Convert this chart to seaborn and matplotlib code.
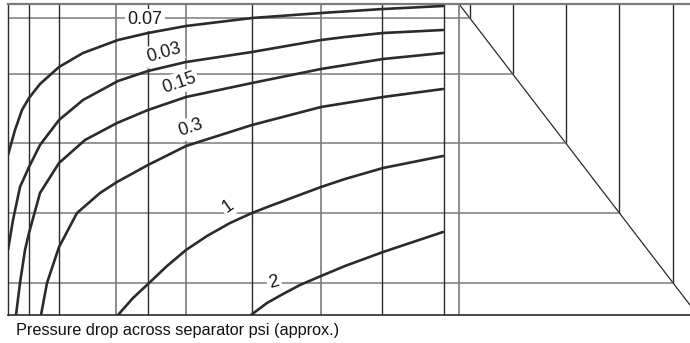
import numpy as np
import pandas as pd
import matplotlib
matplotlib.use("Agg")
import matplotlib.pyplot as plt
import seaborn as sns

# ---- data (chart units: x from left edge, y from bottom edge) ----
curve_names = ["0.07", "0.03", "0.15", "0.3", "1", "2"]
x_007 = [0, 7, 14, 21, 32, 51, 75, 110, 140, 178, 244, 313, 375, 435]
y_007 = [160, 185, 205, 217, 231, 248, 262, 275, 282, 289, 297, 302, 306, 309]
x_003 = [0, 5, 12, 21, 32, 51, 75, 110, 140, 178, 244, 313, 337, 375, 435]
y_003 = [65, 95, 128, 148, 170, 195, 215, 234, 244, 253, 263, 275, 278, 282, 285]
x_015 = [8, 12, 17, 21, 32, 51, 77, 109, 140, 178, 244, 313, 375, 435]
y_015 = [0, 32, 65, 82, 122, 152, 175, 192, 205, 218, 232, 246, 256, 262]
x_03 = [33, 39, 51, 69, 92, 109, 140, 178, 244, 313, 375, 435]
y_03 = [0, 32, 68, 102, 122, 133, 150, 169, 190, 208, 218, 226]
x_1 = [110, 125, 140, 159, 178, 199, 222, 244, 262, 313, 337, 375, 435]
y_1 = [0, 17, 31, 49, 65, 79, 92, 102, 109, 128, 136, 147, 159]
x_2 = [243, 259, 275, 292, 313, 337, 375, 435]
y_2 = [0, 12, 21, 30, 39, 49, 63, 83]

# grid of the nomogram
grid_x_full = [21, 51, 108, 140, 178, 244, 313, 374, 436, 451]
grid_x_dark = [True, True, False, True, False, True, False, True, True, False]
grid_y = [297, 241, 172, 102, 32]
diag_x = [451, 682]
diag_y = [311, 10]
x_max, y_max = 682, 311

caption = "Pressure drop across separator psi (approx.)"

# ---- build table ----
xs = [x_007, x_003, x_015, x_03, x_1, x_2]
ys = [y_007, y_003, y_015, y_03, y_1, y_2]
df = pd.concat(
    [pd.DataFrame({"x": a, "y": b, "curve": n, "order": range(len(a))})
     for a, b, n in zip(xs, ys, curve_names)],
    ignore_index=True)

sns.set_theme(style="white")
plt.rcParams["font.family"] = ["Liberation Sans", "DejaVu Sans"]

fig = plt.figure(figsize=(6.9, 3.43), dpi=100)
ax = fig.add_axes([8 / 690, 28 / 343, 682 / 690, 311 / 343])
ax.set_xlim(0, x_max)
ax.set_ylim(0, y_max)

dark = "#2b2b2b"
grey = "#7a7a7a"

def diag_x_at(y):
    return np.interp(y, diag_y[::-1], diag_x[::-1])

ax.plot(diag_x, diag_y, color=dark, lw=0.9, zorder=1)
for gy in grid_y:
    cx = diag_x_at(gy)
    ax.hlines(gy, 0, cx, color=grey, lw=1.1, zorder=1)
    ax.vlines(cx, gy, y_max, color=dark, lw=1.0, zorder=1)
for gx, d in zip(grid_x_full, grid_x_dark):
    ax.vlines(gx, 0, y_max, color=dark if d else grey, lw=1.0 if d else 1.2, zorder=1)

sns.lineplot(data=df, x="x", y="y", hue="curve", units="curve", estimator=None,
             sort=False, palette=[dark] * len(curve_names), linewidth=1.9,
             legend=False, ax=ax, zorder=3)

labels_pos = {"0.07": (137, 295, 0), "0.03": (156, 262, 16), "0.15": (171, 232, 19),
              "0.3": (183, 187, 19), "1": (220, 109, 35), "2": (266, 33, 15)}
for n in curve_names:
    lx, ly, rot = labels_pos[n]
    ax.text(lx, ly, n, ha="center", va="center", rotation=rot, fontsize=13,
            color="#1a1a1a", zorder=2,
            bbox=dict(facecolor="white", edgecolor="none", pad=1.5))

ax.set_xlabel("")
ax.set_ylabel("")
ax.set_xticks([])
ax.set_yticks([])
ax.spines["right"].set_visible(False)
ax.spines["top"].set_color(grey)
ax.spines["top"].set_linewidth(1.6)
ax.spines["left"].set_color(dark)
ax.spines["left"].set_linewidth(1.0)
ax.spines["bottom"].set_color(dark)
ax.spines["bottom"].set_linewidth(1.2)

fig.text(16 / 690, 1 - 330 / 343, caption, ha="left", va="center",
         fontsize=11.7, color="#111111")

fig.savefig("out.png", dpi=100, facecolor="white")
